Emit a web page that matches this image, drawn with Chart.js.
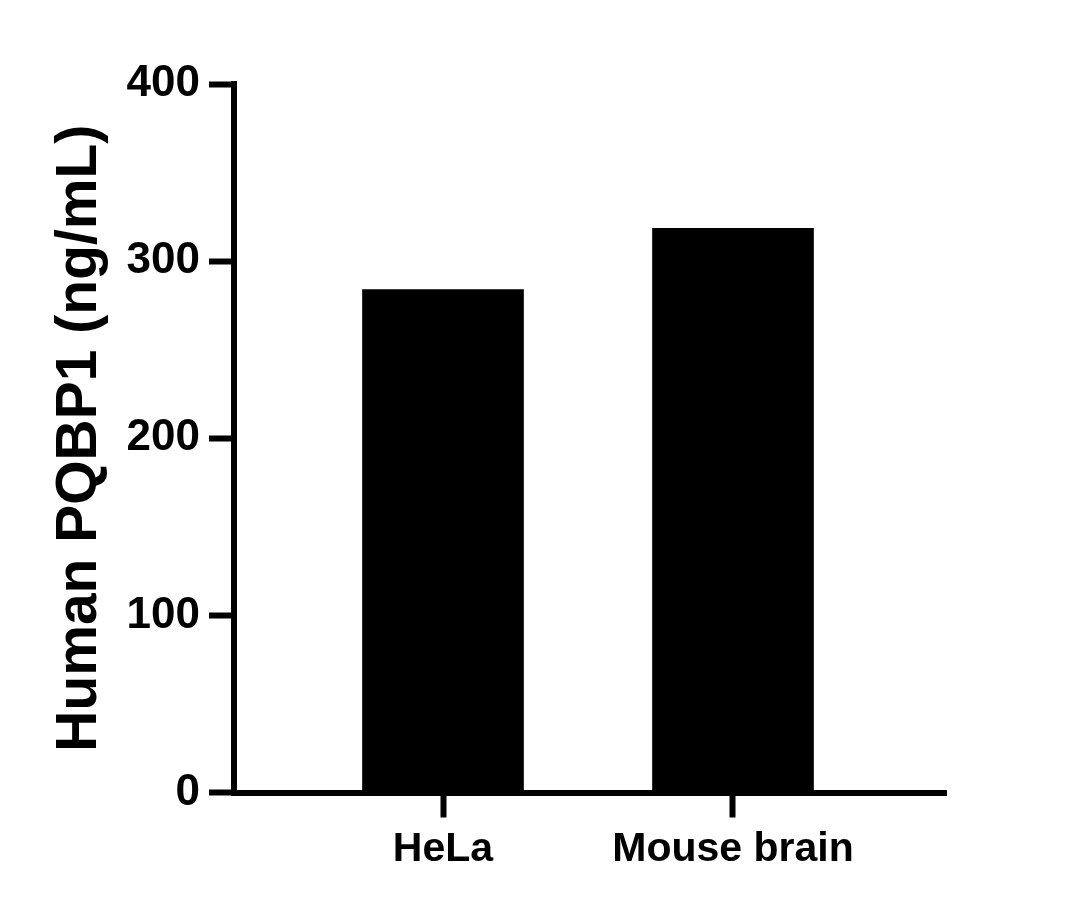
<!DOCTYPE html>
<html>
<head>
<meta charset="utf-8">
<script src="https://cdn.jsdelivr.net/npm/chart.js@4"></script>
<style>
  html, body { margin: 0; padding: 0; background: #fff; }
  #wrap { width: 1081px; height: 909px; }
</style>
</head>
<body>
<div id="wrap"><canvas id="c" width="1081" height="909"></canvas></div>
<script>
const categories = ['HeLa', 'Mouse brain'];
const values = [284, 318.5];
const yTickValues = [0, 100, 200, 300, 400];
const yTitle = 'Human PQBP1 (ng/mL)';

const FONT = "'Liberation Sans', Arial, sans-serif";

const ctx = document.getElementById('c').getContext('2d');
new Chart(ctx, {
  type: 'bar',
  data: {
    datasets: [{
      data: values.map((v, i) => ({ x: i, y: v })),
      backgroundColor: '#000',
      borderWidth: 0,
      barThickness: 161
    }]
  },
  options: {
    responsive: false,
    animation: false,
    devicePixelRatio: 1,
    layout: { padding: { left: 0, right: 135, top: 84, bottom: 0 } },
    plugins: { legend: { display: false }, tooltip: { enabled: false } },
    scales: {
      x: {
        type: 'linear',
        min: -0.7207,
        max: 1.7345,
        offset: false,
        afterFit: s => { s.height = 116.5; },
        afterBuildTicks: s => { s.ticks = categories.map((c, i) => ({ value: i })); },
        border: { display: true, color: '#000', width: 6 },
        grid: { display: true, offset: false, drawOnChartArea: false, drawTicks: true, tickLength: 25, tickWidth: 6, tickColor: '#000', color: '#000' },
        ticks: {
          color: '#000',
          padding: 8,
          maxRotation: 0,
          autoSkip: false,
          font: { family: FONT, size: 41, weight: 'bold' },
          callback: v => categories[v] ?? ''
        }
      },
      y: {
        type: 'linear',
        min: 0,
        max: 400,
        afterFit: s => { s.width = 234; },
        afterBuildTicks: s => { s.ticks = yTickValues.map(v => ({ value: v })); },
        border: { display: true, color: '#000', width: 6 },
        grid: { display: true, drawOnChartArea: false, drawTicks: true, tickLength: 25, tickWidth: 6, tickColor: '#000', color: '#000' },
        ticks: {
          color: '#000',
          padding: 9,
          font: { family: FONT, size: 44, weight: 'bold' }
        },
        title: {
          display: true,
          text: yTitle,
          color: '#000',
          padding: { top: 46, bottom: 0 },
          font: { family: FONT, size: 57, weight: 'bold' }
        }
      }
    }
  }
});
</script>
</body>
</html>
